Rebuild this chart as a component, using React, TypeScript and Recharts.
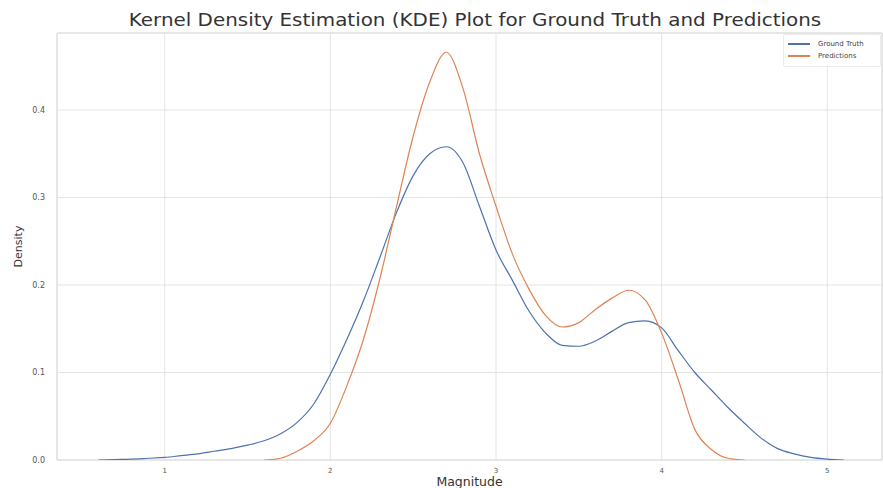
import React from "react";
import {
  LineChart,
  Line,
  XAxis,
  YAxis,
  CartesianGrid,
  ReferenceArea,
} from "recharts";

// KDE curves (x = magnitude, y = density)
const gtX = [0.6, 0.7, 0.8, 0.9, 1.0, 1.1, 1.2, 1.3, 1.4, 1.5, 1.6, 1.7, 1.8, 1.9, 2.0, 2.1, 2.2, 2.3, 2.4, 2.5, 2.6, 2.7, 2.8, 2.9, 3.0, 3.1, 3.2, 3.3, 3.4, 3.5, 3.6, 3.7, 3.8, 3.9, 4.0, 4.1, 4.2, 4.3, 4.4, 4.5, 4.6, 4.7, 4.8, 4.9, 5.0, 5.1];
const gtY = [0.0, 0.0005, 0.001, 0.002, 0.003, 0.005, 0.007, 0.01, 0.013, 0.017, 0.022, 0.03, 0.043, 0.064, 0.098, 0.138, 0.182, 0.232, 0.283, 0.325, 0.35, 0.358, 0.34, 0.29, 0.24, 0.205, 0.17, 0.145, 0.131, 0.13, 0.136, 0.147, 0.157, 0.159, 0.151, 0.125, 0.1, 0.08, 0.06, 0.042, 0.025, 0.013, 0.007, 0.003, 0.001, 0.0];

const predX = [1.6, 1.7, 1.8, 1.9, 2.0, 2.1, 2.2, 2.3, 2.4, 2.5, 2.6, 2.7, 2.8, 2.9, 3.0, 3.1, 3.2, 3.3, 3.4, 3.5, 3.6, 3.7, 3.8, 3.9, 4.0, 4.1, 4.2, 4.3, 4.4, 4.5];
const predY = [0.0, 0.002, 0.01, 0.022, 0.042, 0.085, 0.138, 0.208, 0.29, 0.37, 0.432, 0.466, 0.425, 0.35, 0.29, 0.235, 0.195, 0.165, 0.152, 0.157, 0.172, 0.185, 0.194, 0.183, 0.145, 0.092, 0.035, 0.012, 0.002, 0.0];

const xTicks = [1, 2, 3, 4, 5];
const yTicks = [0, 0.1, 0.2, 0.3, 0.4];

const X_DOMAIN: [number, number] = [0.35, 5.33];
const Y_DOMAIN: [number, number] = [0, 0.488];

const gtData = gtX.map((x, i) => ({ x, y: gtY[i] }));
const predData = predX.map((x, i) => ({ x, y: predY[i] }));

const BLUE = "#4c72b0";
const ORANGE = "#dd8452";
const FONT = "'DejaVu Sans', sans-serif";

const legendItems = [
  { label: "Ground Truth", color: BLUE },
  { label: "Predictions", color: ORANGE },
];

function KdeLegend() {
  return (
    <div
      style={{
        position: "absolute",
        left: 783,
        top: 34,
        width: 98,
        background: "#fff",
        border: "1px solid #ececec",
        borderRadius: 2,
        padding: "3px 0 4px 4px",
        fontFamily: FONT,
        fontSize: 7,
        color: "#444",
        lineHeight: "12px",
        boxSizing: "border-box",
      }}
    >
      {legendItems.map((it) => (
        <div key={it.label} style={{ display: "flex", alignItems: "center", whiteSpace: "nowrap" }}>
          <span style={{ display: "inline-block", width: 22, height: 1.2, background: it.color, marginRight: 8 }} />
          {it.label}
        </div>
      ))}
    </div>
  );
}

export default function App() {
  return (
    <div style={{ position: "absolute", left: 0, top: 0, width: 883, height: 488, background: "#fff", overflow: "hidden" }}>
      <LineChart width={883} height={488} margin={{ top: 33, right: 1, left: 0, bottom: 0 }}>
        <CartesianGrid stroke="#e4e4e4" strokeWidth={1} />
        <ReferenceArea x1={X_DOMAIN[0]} x2={X_DOMAIN[1]} y1={Y_DOMAIN[0]} y2={Y_DOMAIN[1]} fill="none" stroke="#dcdcdc" strokeWidth={1} ifOverflow="visible" />
        <XAxis
          type="number"
          dataKey="x"
          domain={X_DOMAIN}
          ticks={xTicks}
          allowDataOverflow
          height={28}
          tickLine={false}
          axisLine={false}
          tickSize={0}
          tickMargin={8}
          tick={{ fontSize: 7, fill: "#555", fontFamily: FONT }}
          label={{ value: "Magnitude", position: "insideBottom", offset: 2, style: { fontSize: 12.5, fill: "#333", fontFamily: FONT } }}
        />
        <YAxis
          type="number"
          dataKey="y"
          domain={Y_DOMAIN}
          ticks={yTicks}
          allowDataOverflow
          width={57}
          tickLine={false}
          axisLine={false}
          tickSize={0}
          tickMargin={12}
          tickFormatter={(v: number) => v.toFixed(1)}
          tick={{ fontSize: 8, fill: "#555", fontFamily: FONT }}
          label={{ value: "Density", angle: -90, position: "insideLeft", offset: 18, style: { fontSize: 11, fill: "#333", fontFamily: FONT, textAnchor: "middle" } }}
        />
        <Line
          data={gtData}
          dataKey="y"
          name="Ground Truth"
          type="monotone"
          stroke={BLUE}
          strokeWidth={1.2}
          dot={false}
          isAnimationActive={false}
        />
        <Line
          data={predData}
          dataKey="y"
          name="Predictions"
          type="monotone"
          stroke={ORANGE}
          strokeWidth={1.2}
          dot={false}
          isAnimationActive={false}
        />
      </LineChart>
      <div
        style={{
          position: "absolute",
          left: 475,
          top: 10,
          transform: "translateX(-50%) scaleX(1.17)",
          fontFamily: FONT,
          fontSize: 17,
          color: "#333",
          whiteSpace: "nowrap",
        }}
      >
        Kernel Density Estimation (KDE) Plot for Ground Truth and Predictions
      </div>
      <KdeLegend />
    </div>
  );
}
